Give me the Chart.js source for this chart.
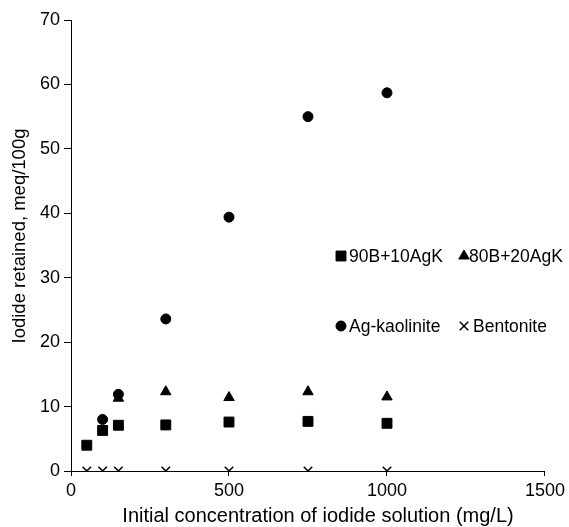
<!DOCTYPE html>
<html><head><meta charset="utf-8">
<script src="https://cdn.jsdelivr.net/npm/chart.js@4/dist/chart.umd.min.js"></script>
<style>html,body{margin:0;padding:0;background:#fff}#wrap{width:569px;height:527px;position:relative}</style>
</head><body><div id="wrap"><canvas id="c" width="569" height="527"></canvas></div>
<script>
const seriesNames = ["90B+10AgK", "80B+20AgK", "Ag-kaolinite", "Bentonite"];
const xSquare = [50, 100, 150, 300, 500, 750, 1000];
const ySquare = [4.0, 6.3, 7.1, 7.15, 7.6, 7.7, 7.4];
const xTriangle = [150, 300, 500, 750, 1000];
const yTriangle = [11.3, 12.3, 11.4, 12.3, 11.5];
const xCircle = [100, 150, 300, 500, 750, 1000];
const yCircle = [8.0, 11.9, 23.6, 39.4, 55.0, 58.7];
const xCross = [50, 100, 150, 300, 500, 750, 1000];
const yCross = [0, 0, 0, 0, 0, 0, 0];
const xTicks = [0, 500, 1000, 1500];
const yTicks = [0, 10, 20, 30, 40, 50, 60, 70];
const xTitle = "Initial concentration of iodide solution (mg/L)";
const yTitle = "Iodide retained, meq/100g";

const FONT = "'Liberation Sans', Arial, sans-serif";
const pts = (xs, ys) => xs.map((x, i) => ({x: x, y: ys[i]}));
const styles = [
  {pointStyle: 'rect', radius: 7},
  {pointStyle: 'triangle', radius: 6},
  {pointStyle: 'circle', radius: 5},
  {pointStyle: 'crossRot', radius: 6}
];
const dataSets = [pts(xSquare, ySquare), pts(xTriangle, yTriangle), pts(xCircle, yCircle), pts(xCross, yCross)];

const textPlugin = {
  id: 'customText',
  afterDraw(chart) {
    const ctx = chart.ctx;
    const pos = [
      {mx: 341, y: 256, tx: 349},
      {mx: 464, y: 256, tx: 469},
      {mx: 341, y: 326, tx: 349},
      {mx: 464, y: 326, tx: 473}
    ];
    ctx.save();
    ctx.font = "17.5px " + FONT;
    ctx.textBaseline = 'middle';
    ctx.textAlign = 'left';
    seriesNames.forEach((n, i) => {
      const p = pos[i];
      ctx.fillStyle = '#000';
      ctx.strokeStyle = '#000';
      ctx.lineWidth = i === 3 ? 1.5 : 1;
      Chart.helpers.drawPoint(ctx, {pointStyle: styles[i].pointStyle, radius: styles[i].radius, rotation: 0, borderWidth: ctx.lineWidth}, p.mx, p.y);
      ctx.fillStyle = '#000';
      ctx.fillText(n, p.tx, p.y + 1);
    });
    // x title
    ctx.font = "20px " + FONT;
    ctx.textAlign = 'center';
    ctx.textBaseline = 'middle';
    ctx.fillText(xTitle, 318, 516);
    // y title
    ctx.font = "18.5px " + FONT;
    ctx.translate(20, 236);
    ctx.rotate(-Math.PI / 2);
    ctx.fillText(yTitle, 0, 0);
    ctx.restore();
  }
};

new Chart(document.getElementById('c'), {
  type: 'scatter',
  data: {
    datasets: dataSets.map((d, i) => ({
      label: seriesNames[i],
      data: d,
      pointStyle: styles[i].pointStyle,
      pointRadius: styles[i].radius,
      pointHoverRadius: styles[i].radius,
      backgroundColor: '#000',
      borderColor: '#000',
      pointBorderWidth: i === 3 ? 1.5 : 1,
      showLine: false
    }))
  },
  options: {
    responsive: false,
    animation: false,
    layout: {padding: {top: 20, right: 24, left: 0, bottom: 0}},
    plugins: {legend: {display: false}, tooltip: {enabled: false}},
    scales: {
      x: {
        type: 'linear', min: 0, max: 1500,
        afterBuildTicks: s => { s.ticks = xTicks.map(v => ({value: v})); },
        afterFit: s => { s.height = 56; },
        border: {color: '#000', width: 1},
        grid: {drawOnChartArea: false, color: '#000', tickLength: 5},
        ticks: {color: '#000', font: {family: FONT, size: 18}, padding: 4, maxRotation: 0, callback: v => String(v)}
      },
      y: {
        type: 'linear', min: 0, max: 70,
        afterBuildTicks: s => { s.ticks = yTicks.map(v => ({value: v})); },
        afterFit: s => { s.width = 71; },
        border: {color: '#000', width: 1},
        grid: {drawOnChartArea: false, color: '#000', tickLength: 7},
        ticks: {color: '#000', font: {family: FONT, size: 18}, padding: 4, callback: v => String(v)}
      }
    }
  },
  plugins: [textPlugin]
});
</script></body></html>
